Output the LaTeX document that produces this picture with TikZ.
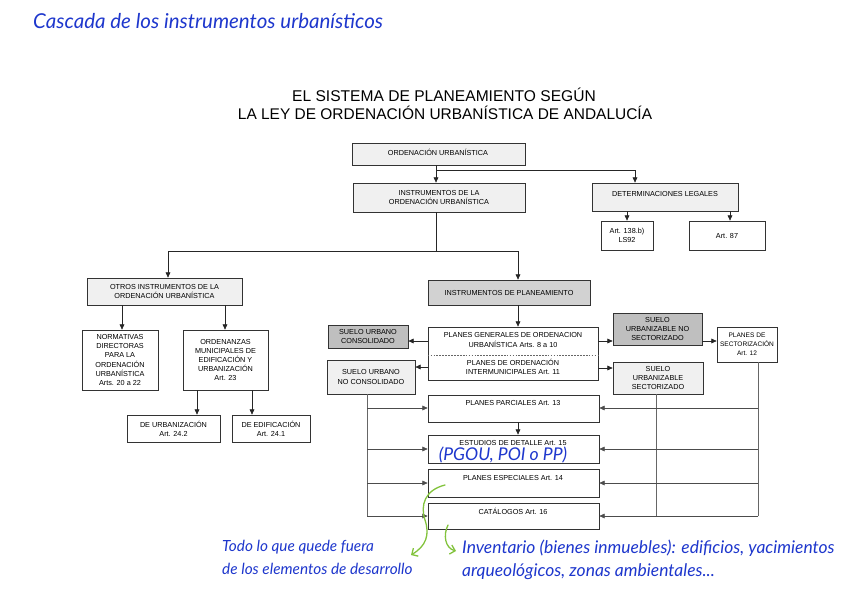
\documentclass[tikz,border=0pt]{standalone}
\usepackage{fontspec}
\setmainfont{Liberation Sans}
\newfontfamily\handfont{Lato}
\usetikzlibrary{arrows.meta}
\definecolor{handblue}{RGB}{30,55,205}
\definecolor{handgreen}{RGB}{130,195,60}
\newcommand\mybox[7]{\node[box,#6,minimum width={(#4-#2)*0.3mm},minimum height={(#5-#3)*0.3mm}] (#1) at ({(#2+#4)/2},{(#3+#5)/2}) {#7};}
\begin{document}
\begin{tikzpicture}[x=0.3mm,y=-0.3mm,
  box/.style={draw=black!80, line width=0.6pt, fill=white, inner sep=0pt, align=center, font=\fontsize{6.2}{7.8}\selectfont},
  lt/.style={fill=gray!12}, md/.style={fill=gray!35}, dk/.style={fill=gray!50},
  txt/.style={inner sep=0pt, align=center, font=\fontsize{6.2}{7.8}\selectfont},
  con/.style={draw=black!85, line width=0.6pt},
  arr/.style={con, -{Triangle[length=4.5pt,width=4pt]}},
  thinline/.style={draw=black!60, line width=0.45pt},
  hand/.style={text=handblue, font=\handfont\itshape\fontsize{12}{16}\selectfont, inner sep=0pt},
  garrow/.style={draw=handgreen, line width=1.1pt, line cap=round, -{Straight Barb[length=4pt,width=8pt]}},
  ]
\useasboundingbox (0,0) rectangle (848,599);
\fill[white] (0,0) rectangle (848,599);

% titles
\node[hand, anchor=west, font=\handfont\itshape\fontsize{17.5}{20}\selectfont] (h0) at (33,21) {Cascada de los instrumentos urbanísticos};
\node[inner sep=0pt, font=\fontsize{13.3}{16}\selectfont] (t1) at (444,95) {EL SISTEMA DE PLANEAMIENTO SEGÚN};
\node[inner sep=0pt, font=\fontsize{13.2}{16}\selectfont] (t2) at (445,113) {LA LEY DE ORDENACIÓN URBANÍSTICA DE ANDALUCÍA};

% top boxes
\mybox{ord}{352}{143}{525}{165}{lt}{}
\node[txt] (ordt) at (438,152) {ORDENACIÓN URBANÍSTICA};
\mybox{ins1}{353}{183}{525}{212}{lt}{INSTRUMENTOS DE LA\\ORDENACIÓN URBANÍSTICA}
\mybox{det}{592}{183}{738}{211}{lt}{}
\node[txt] (dett) at (665,194) {DETERMINACIONES LEGALES};
\mybox{a138}{601}{221}{653}{250}{}{Art. 138.b)\\LS92}
\mybox{a87}{689}{221}{765}{250}{}{Art. 87}

% left branch
\mybox{otros}{87}{278}{242}{305}{lt}{OTROS INSTRUMENTOS DE LA\\ORDENACIÓN URBANÍSTICA}
\mybox{norm}{82}{330}{158}{390}{}{NORMATIVAS\\DIRECTORAS\\PARA LA\\ORDENACIÓN\\URBANÍSTICA\\Arts. 20 a 22}
\mybox{ordz}{183}{330}{268}{390}{}{ORDENANZAS\\MUNICIPALES DE\\EDIFICACIÓN Y\\URBANIZACIÓN\\Art. 23}
\mybox{urb}{127}{415}{220}{442}{}{DE URBANIZACIÓN\\Art. 24.2}
\mybox{edif}{232}{415}{310}{442}{}{DE EDIFICACIÓN\\Art. 24.1}

% right branch
\mybox{insp}{428}{280}{590}{305}{md}{INSTRUMENTOS DE PLANEAMIENTO}
\mybox{pg}{428}{327}{598}{380}{}{}
\node[txt] (pg1) at (513,340) {PLANES GENERALES DE ORDENACION\\URBANÍSTICA Arts. 8 a 10};
\node[txt] (pg2) at (513,367) {PLANES DE ORDENACIÓN\\INTERMUNICIPALES Art. 11};
\mybox{suc}{328}{325}{408}{348}{dk}{SUELO URBANO\\CONSOLIDADO}
\mybox{sunc}{327}{360}{415}{394}{lt}{SUELO URBANO\\NO CONSOLIDADO}
\mybox{suns}{613}{313}{702}{345}{dk}{SUELO\\URBANIZABLE NO\\SECTORIZADO}
\mybox{sus}{613}{362}{703}{394}{lt}{SUELO\\URBANIZABLE\\SECTORIZADO}
\mybox{psec}{717}{327}{777}{362}{font=\fontsize{5.6}{7.6}\selectfont}{PLANES DE\\SECTORIZACIÓN\\Art. 12}
\mybox{pp}{428}{395}{599}{422}{}{}
\node[txt] (ppt) at (513,403) {PLANES PARCIALES Art. 13};
\mybox{ed}{428}{435}{599}{463}{}{}
\node[txt] (edt) at (513,443) {ESTUDIOS DE DETALLE Art. 15};
\mybox{pe}{428}{469}{599}{497}{}{}
\node[txt] (pet) at (513,478) {PLANES ESPECIALES Art. 14};
\mybox{cat}{428}{503}{599}{529}{}{}
\node[txt] (catt) at (513,511) {CATÁLOGOS Art. 16};

% guides
\coordinate (jA) at (436,170);
\coordinate (jB) at (436,251);
\foreach \g in {635,627,730,168,518,122,225,197,252,367,656,758} {\coordinate (g\g) at (\g,0);}
\foreach \r in {341,355,367,368,408,449,483,516} {\coordinate (r\r) at (0,\r);}

% top connectors
\draw[arr] (ord.south -| jA) -- (ins1.north -| jA);
\draw[arr] (jA) -| (g635 |- det.north);
\draw[arr] (g627 |- det.south) -- (g627 |- a138.north);
\draw[arr] (g730 |- det.south) -- (g730 |- a87.north);
\draw[con] (ins1.south -| jB) -- (jB);
\draw[arr] (jB) -| (g168 |- otros.north);
\draw[arr] (jB) -| (g518 |- insp.north);
\draw[arr] (g122 |- otros.south) -- (g122 |- norm.north);
\draw[arr] (g225 |- otros.south) -- (g225 |- ordz.north);
\draw[arr] (g197 |- ordz.south) -- (g197 |- urb.north);
\draw[arr] (g252 |- ordz.south) -- (g252 |- edif.north);

% planeamiento connectors
\draw[arr] (g518 |- insp.south) -- (g518 |- pg.north);
\draw[thinline, dash pattern=on 1.5pt off 1pt] (pg.west |- r355) -- (pg.east |- r355);
\draw[arr] (pg.west |- r341) -- (suc.east |- r341);
\draw[arr] (pg.west |- r367) -- (sunc.east |- r367);
\draw[arr] (pg.east |- r341) -- (suns.west |- r341);
\draw[arr] (suns.east |- r341) -- (psec.west |- r341);
\draw[arr] (pg.east |- r368) -- (sus.west |- r368);
\draw[arr] (g518 |- pp.south) -- (g518 |- ed.north);

% buses
\draw[thinline] (g367 |- sunc.south) -- (g367 |- r516);
\draw[thinline] (g656 |- sus.south) -- (g656 |- r516);
\draw[thinline] (g758 |- psec.south) -- (g758 |- r516);
\foreach \b/\r in {pp/408, ed/449, pe/483, cat/516} {
  \draw[arr, draw=black!70, line width=0.5pt] (g367 |- r\r) -- (\b.west |- r\r);
  \draw[arr, draw=black!70, line width=0.5pt] (g758 |- r\r) -- (\b.east |- r\r);
}

% handwriting
\node[hand, font=\handfont\itshape\fontsize{15}{16}\selectfont] (h1) at (503,455) {(PGOU, POI o PP)};
\node[hand, anchor=north west, align=left, font=\handfont\itshape\fontsize{13.1}{19.5}\selectfont] (h2) at (222,540) {Todo lo que quede fuera\\de los elementos de desarrollo};
\node[hand, anchor=north west, align=left, font=\handfont\itshape\fontsize{14.9}{19.5}\selectfont] (h3) at (462,540) {Inventario (bienes inmuebles): edificios, yacimientos\\arqueológicos, zonas ambientales...};
\draw[garrow] (445,485) .. controls (425,490) and (420,505) .. (425,520) .. controls (430,535) and (426,546) .. (411,555);
\draw[garrow] (448,525) .. controls (443,535) and (445,548) .. (456,551);
\end{tikzpicture}
\end{document}
